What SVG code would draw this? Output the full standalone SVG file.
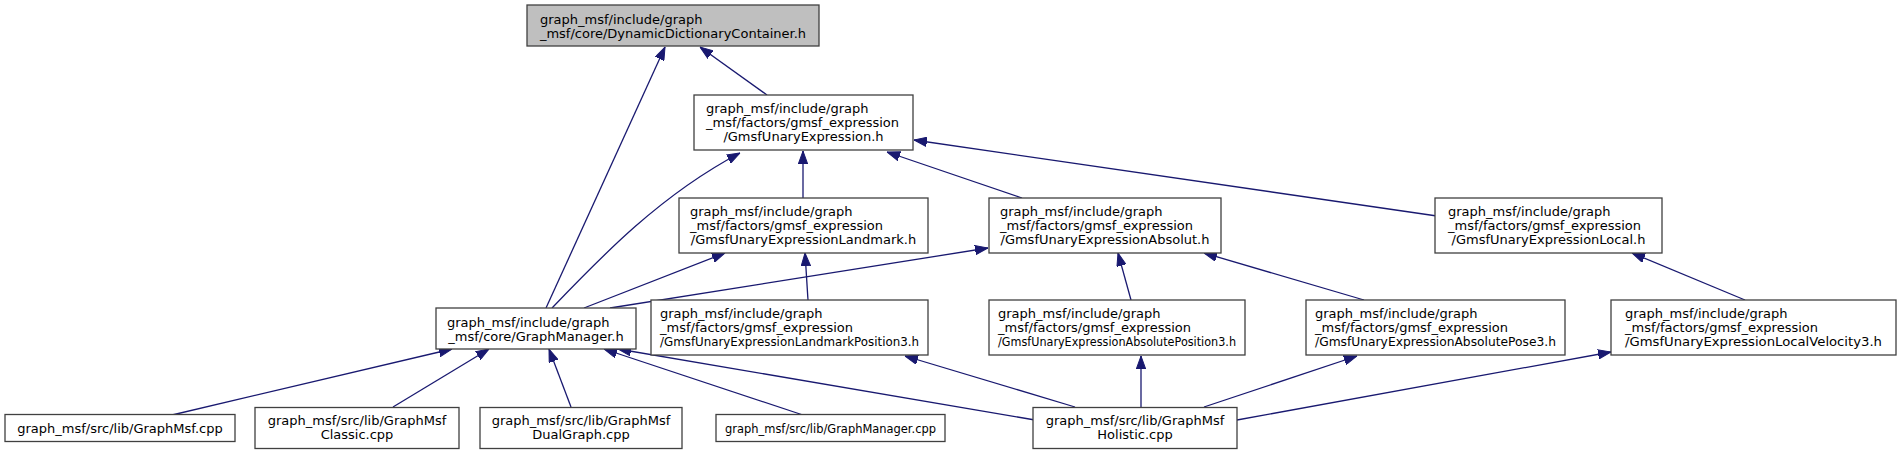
<svg xmlns="http://www.w3.org/2000/svg" width="1902" height="453" viewBox="0 0 1902 453">
<style>
rect{fill:#fff;stroke:#404040;stroke-width:1.3}
text{font-family:"DejaVu Sans","Liberation Sans",sans-serif;font-size:13px;fill:#000}
.c{text-anchor:middle}
.e{fill:none;stroke:#191970;stroke-width:1.3}
</style>
<defs>
<marker id="a" markerUnits="userSpaceOnUse" viewBox="0 0 13 10" refX="13" refY="5" markerWidth="13" markerHeight="10" orient="auto">
<path d="M0,0.3 L13,5 L0,9.7 z" fill="#191970" stroke="#191970" stroke-width="1"/>
</marker>
</defs>
<rect x="0" y="0" width="1902" height="453" style="fill:#fff;stroke:none"/>
<g id="connectors">
<path class="e" marker-end="url(#a)" d="M546,308 L665,47"/>
<path class="e" marker-end="url(#a)" d="M767,95 L700,47"/>
<path class="e" marker-end="url(#a)" d="M552,308 C600,258 660,195 740,153"/>
<path class="e" marker-end="url(#a)" d="M803,198 L803,151"/>
<path class="e" marker-end="url(#a)" d="M1022,198 L887,152"/>
<path class="e" marker-end="url(#a)" d="M1437,216 L914,140"/>
<path class="e" marker-end="url(#a)" d="M584,308 L725,253"/>
<path class="e" marker-end="url(#a)" d="M610,308 L988,248"/>
<path class="e" marker-end="url(#a)" d="M808,300 L805,253"/>
<path class="e" marker-end="url(#a)" d="M1131,300 L1118,253"/>
<path class="e" marker-end="url(#a)" d="M1364,300 L1204,253"/>
<path class="e" marker-end="url(#a)" d="M1745,300 L1632,253"/>
<path class="e" marker-end="url(#a)" d="M172,415 L452,349"/>
<path class="e" marker-end="url(#a)" d="M393,407 L489,349"/>
<path class="e" marker-end="url(#a)" d="M571,407 L549,349"/>
<path class="e" marker-end="url(#a)" d="M803,415 L604,349"/>
<path class="e" marker-end="url(#a)" d="M1035,420 L618,349"/>
<path class="e" marker-end="url(#a)" d="M1075,407 L905,356"/>
<path class="e" marker-end="url(#a)" d="M1141,407 L1141,356"/>
<path class="e" marker-end="url(#a)" d="M1204,407 L1357,356"/>
<path class="e" marker-end="url(#a)" d="M1237,420 L1611,352"/>
</g>
<g id="n1"><rect x="527" y="5" width="292" height="41" style="fill:#bfbfbf"/><text x="540" y="23.5">graph_msf/include/graph</text><text class="c" x="673" y="37.5">_msf/core/DynamicDictionaryContainer.h</text></g>
<g id="n2"><rect x="694" y="95" width="219" height="55"/><text x="706" y="112.5">graph_msf/include/graph</text><text x="706" y="126.5">_msf/factors/gmsf_expression</text><text class="c" x="803.5" y="140.5">/GmsfUnaryExpression.h</text></g>
<g id="n3"><rect x="679" y="198" width="249" height="55"/><text x="690" y="215.5">graph_msf/include/graph</text><text x="690" y="229.5">_msf/factors/gmsf_expression</text><text class="c" x="803.5" y="243.5">/GmsfUnaryExpressionLandmark.h</text></g>
<g id="n4"><rect x="989" y="198" width="232" height="55"/><text x="1000" y="215.5">graph_msf/include/graph</text><text x="1000" y="229.5">_msf/factors/gmsf_expression</text><text class="c" x="1105" y="243.5">/GmsfUnaryExpressionAbsolut.h</text></g>
<g id="n5"><rect x="1435" y="198" width="227" height="55"/><text x="1448" y="215.5">graph_msf/include/graph</text><text x="1448" y="229.5">_msf/factors/gmsf_expression</text><text class="c" x="1548.5" y="243.5">/GmsfUnaryExpressionLocal.h</text></g>
<g id="n6"><rect x="436" y="308" width="200" height="41"/><text x="447" y="326.5">graph_msf/include/graph</text><text class="c" x="536" y="340.5">_msf/core/GraphManager.h</text></g>
<g id="n7"><rect x="651" y="300" width="277" height="55"/><text x="660" y="317.5">graph_msf/include/graph</text><text x="660" y="331.5">_msf/factors/gmsf_expression</text><text class="c" x="789.5" y="345.5" textLength="259" lengthAdjust="spacingAndGlyphs">/GmsfUnaryExpressionLandmarkPosition3.h</text></g>
<g id="n8"><rect x="989" y="300" width="256" height="55"/><text x="998" y="317.5">graph_msf/include/graph</text><text x="998" y="331.5">_msf/factors/gmsf_expression</text><text class="c" x="1117" y="345.5" textLength="238" lengthAdjust="spacingAndGlyphs">/GmsfUnaryExpressionAbsolutePosition3.h</text></g>
<g id="n9"><rect x="1306" y="300" width="259" height="55"/><text x="1315" y="317.5">graph_msf/include/graph</text><text x="1315" y="331.5">_msf/factors/gmsf_expression</text><text class="c" x="1435.5" y="345.5" textLength="241" lengthAdjust="spacingAndGlyphs">/GmsfUnaryExpressionAbsolutePose3.h</text></g>
<g id="n10"><rect x="1611" y="300" width="285" height="55"/><text x="1625" y="317.5">graph_msf/include/graph</text><text x="1625" y="331.5">_msf/factors/gmsf_expression</text><text class="c" x="1753.5" y="345.5" textLength="257" lengthAdjust="spacingAndGlyphs">/GmsfUnaryExpressionLocalVelocity3.h</text></g>
<g id="n11"><rect x="5" y="414.5" width="230" height="27"/><text class="c" x="120" y="432.5">graph_msf/src/lib/GraphMsf.cpp</text></g>
<g id="n12"><rect x="255" y="407.5" width="204" height="41"/><text class="c" x="357" y="425">graph_msf/src/lib/GraphMsf</text><text class="c" x="357" y="439">Classic.cpp</text></g>
<g id="n13"><rect x="480" y="407.5" width="202" height="41"/><text class="c" x="581" y="425">graph_msf/src/lib/GraphMsf</text><text class="c" x="581" y="439">DualGraph.cpp</text></g>
<g id="n14"><rect x="716" y="414.5" width="229" height="27"/><text class="c" x="830.5" y="432.5" textLength="211" lengthAdjust="spacingAndGlyphs">graph_msf/src/lib/GraphManager.cpp</text></g>
<g id="n15"><rect x="1033" y="407.5" width="204" height="41"/><text class="c" x="1135" y="425">graph_msf/src/lib/GraphMsf</text><text class="c" x="1135" y="439">Holistic.cpp</text></g>
</svg>
